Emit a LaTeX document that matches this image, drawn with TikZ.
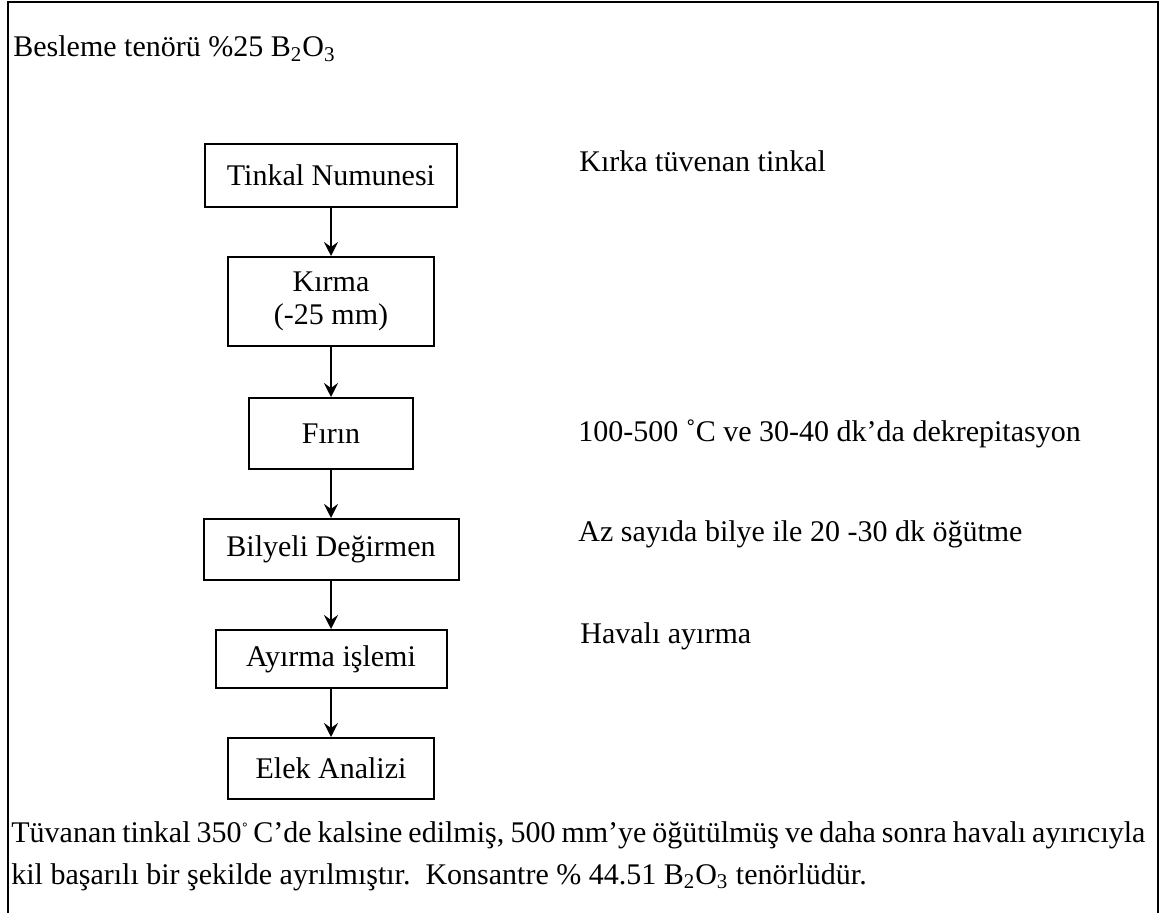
\documentclass[tikz,border=0pt]{standalone}
\usepackage{fontspec}
\setmainfont{Liberation Serif}
\usetikzlibrary{positioning, arrows.meta}

\begin{document}
\begin{tikzpicture}[
        x=0.5pt, y=-0.5pt,
        node distance=24pt,
        stage/.style={
            rectangle, draw=black, line width=1pt, fill=white,
            font=\fontsize{15}{16.5}\selectfont, align=center, inner sep=0pt
        },
        note/.style={anchor=base west, inner sep=0pt, font=\fontsize{15}{18}\selectfont},
        flow/.style={-{Stealth[length=7pt, width=7pt, inset=2.5pt]}, line width=1pt}
    ]
        \useasboundingbox (0,0) rectangle (1160,913);
        \draw[line width=1.2pt] (8,913) -- (8,2) -- (1158,2) -- (1158,913);
        \node[note] (feed) at (13,57) {Besleme tenörü \%25 B\textsubscript{2}O\textsubscript{3}};

        \node[stage, minimum width=126pt, minimum height=31.5pt] (tinkal) at (331,175.5) {Tinkal Numunesi};
        \node[stage, minimum width=103pt, minimum height=44.5pt, below=of tinkal] (kirma) {Kırma\\(-25 mm)};
        \node[stage, minimum width=82pt, minimum height=35.5pt, below=25pt of kirma] (firin) {Fırın};
        \node[stage, minimum width=127.5pt, minimum height=30.5pt, below=of firin] (bilye) {Bilyeli Değirmen};
        \node[stage, minimum width=115.5pt, minimum height=29pt, below=of bilye] (ayirma) {Ayırma işlemi};
        \node[stage, minimum width=103pt, minimum height=30.5pt, below=of ayirma] (elek) {Elek Analizi};
        \draw[flow] (tinkal) -- (kirma);
        \draw[flow] (kirma) -- (firin);
        \draw[flow] (firin) -- (bilye);
        \draw[flow] (bilye) -- (ayirma);
        \draw[flow] (ayirma) -- (elek);

        \node[note] (kirka) at (579,172) {Kırka tüvenan tinkal};
        \node[note] (dekrep) at (578,442) {100-500 ˚C ve 30-40 dk’da dekrepitasyon};
        \node[note] (ogutme) at (578,542) {Az sayıda bilye ile 20 -30 dk öğütme};
        \node[note] (havali) at (580,643) {Havalı ayırma};

        \node[anchor=base west, inner sep=0pt, text width=567pt, align=justify,
            font=\fontsize{15}{21}\selectfont] (sonuc) at (11,842)
            {Tüvanan tinkal 350\raisebox{0.3ex}{\fontsize{10}{10}\selectfont ˚}\,C’de kalsine edilmiş, 500 mm’ye öğütülmüş ve daha sonra havalı ayırıcıyla\linebreak
            kil başarılı bir şekilde ayrılmıştır.\ \ Konsantre \% 44.51 B\textsubscript{2}O\textsubscript{3} tenörlüdür.};
    \end{tikzpicture}
\end{document}
